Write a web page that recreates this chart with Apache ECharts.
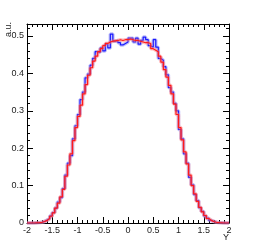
<!DOCTYPE html>
<html><head><meta charset="utf-8">
<script src="https://cdn.jsdelivr.net/npm/echarts@6/dist/echarts.min.js"></script>
<style>html,body{margin:0;padding:0;background:#fff}#c{width:267px;height:248px}</style>
</head><body><div id="c"></div>
<script>
// histogram range and binning
const xMin = -2, xMax = 2, nBins = 80;
// red histogram (bin contents, left to right)
const redVals = [
0,0,0,0.0005,0.001,0.002,0.004,0.007,0.012,0.018,
0.027,0.040,0.053,0.070,0.090,0.125,0.155,0.185,0.220,0.255,
0.285,0.315,0.345,0.370,0.395,0.415,0.433,0.446,0.458,0.466,
0.474,0.480,0.484,0.486,0.487,0.488,0.490,0.488,0.490,0.490,
0.492,0.490,0.488,0.488,0.486,0.484,0.482,0.482,0.480,0.466,
0.462,0.458,0.446,0.430,0.410,0.390,0.368,0.345,0.318,0.290,
0.255,0.222,0.190,0.158,0.128,0.100,0.078,0.058,0.042,0.030,
0.020,0.012,0.007,0.004,0.002,0.001,0.0005,0,0,0];
// blue histogram
const blueVals = [
0,0,0,0.0005,0.001,0.002,0.004,0.008,0.012,0.019,
0.028,0.040,0.056,0.068,0.092,0.128,0.160,0.180,0.225,0.260,
0.290,0.330,0.350,0.388,0.398,0.422,0.440,0.458,0.456,0.468,
0.460,0.478,0.468,0.505,0.486,0.488,0.482,0.476,0.480,0.484,
0.494,0.494,0.484,0.494,0.478,0.488,0.497,0.490,0.474,0.470,
0.490,0.470,0.440,0.435,0.418,0.396,0.362,0.350,0.320,0.300,
0.250,0.225,0.185,0.160,0.122,0.102,0.076,0.060,0.041,0.031,
0.019,0.013,0.007,0.004,0.002,0.001,0.0005,0,0,0];
const xTicks = ['-2','-1.5','-1','-0.5','0','0.5','1','1.5','2'];

const bw = (xMax - xMin) / nBins;
function steps(vals){
  const d = vals.map((v,i)=>[xMin + i*bw, v]);
  d.push([xMax, vals[vals.length-1]]);
  return d;
}
const chart = echarts.init(document.getElementById('c'), null, {renderer:'canvas'});
const font = 'Liberation Sans, Arial, sans-serif';
const axisCommon = {
  min: xMin, max: xMax, interval: 0.5, splitNumber: 8,
  axisLine: {show:true, onZero:false, lineStyle:{color:'#000', width:1}},
  axisTick: {show:true, inside:true, length:6, lineStyle:{color:'#000'}},
  minorTick: {show:true, splitNumber:5, length:3, lineStyle:{color:'#000'}},
  splitLine: {show:false}
};
chart.setOption({
  animation:false,
  grid:{left:27, right:38, top:24, bottom:25},
  xAxis:[
    Object.assign({type:'value', position:'bottom',
      axisLabel:{color:'#222', fontSize:9, fontFamily:font, margin:3,
        formatter:v=>{const s=xTicks.find(t=>Math.abs(parseFloat(t)-v)<1e-6);return s===undefined?'':s;}}}, axisCommon),
    Object.assign({type:'value', position:'top', axisLabel:{show:false}}, axisCommon)
  ],
  yAxis:[
    {type:'value', position:'left', min:0, max:0.532, interval:0.1,
     axisLine:{show:true, onZero:false, lineStyle:{color:'#000'}},
     axisTick:{show:true, inside:true, length:6, lineStyle:{color:'#000'}},
     minorTick:{show:true, splitNumber:5, length:3, lineStyle:{color:'#000'}},
     splitLine:{show:false},
     axisLabel:{color:'#222', fontSize:9, fontFamily:font, margin:3, showMaxLabel:false,
       formatter:v=>v===0?'0':v.toFixed(1)}},
    {type:'value', position:'right', min:0, max:0.532, interval:0.1,
     axisLine:{show:true, onZero:false, lineStyle:{color:'#000'}},
     axisTick:{show:true, inside:true, length:6, lineStyle:{color:'#000'}},
     minorTick:{show:true, splitNumber:5, length:3, lineStyle:{color:'#000'}},
     splitLine:{show:false}, axisLabel:{show:false}}
  ],
  graphic:[
    {type:'text', left:223, top:233, style:{text:'Y', fontSize:9, fontFamily:font, fill:'#222'}},
    {type:'text', x:4, y:37, rotation:Math.PI/2, style:{text:'a.u.', fontSize:9, fontFamily:font, fill:'#222', align:'left', verticalAlign:'top'}}
  ],
  series:[
    {type:'line', step:'end', data:steps(blueVals), showSymbol:false, silent:true,
     lineStyle:{color:'#6f6ff0', width:3.5, opacity:0.45}, z:2},
    {type:'line', step:'end', data:steps(blueVals), showSymbol:false, silent:true,
     lineStyle:{color:'#1a1aff', width:1.2}, z:3},
    {type:'line', step:'end', data:steps(redVals), showSymbol:false, silent:true,
     lineStyle:{color:'#ff7070', width:3.5, opacity:0.45}, z:4},
    {type:'line', step:'end', data:steps(redVals), showSymbol:false, silent:true,
     lineStyle:{color:'#ff1a1a', width:1.2}, z:5}
  ]
});
</script></body></html>
